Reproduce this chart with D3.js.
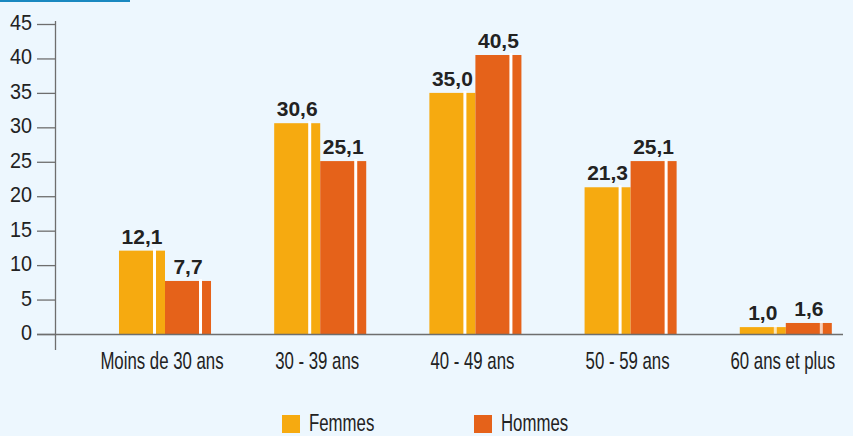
<!DOCTYPE html>
<html>
<head>
<meta charset="utf-8">
<script src="https://cdn.jsdelivr.net/npm/d3@7"></script>
<style>
  body { margin: 0; background: #edf7fe; }
  svg { display: block; }
  text { font-family: "Liberation Sans", Arial, sans-serif; }
</style>
</head>
<body>
<div class="chart"></div>
<script>
// data
var categories = ["Moins de 30 ans", "30 - 39 ans", "40 - 49 ans", "50 - 59 ans", "60 ans et plus"];
var series = ["Femmes", "Hommes"];
var femmes = [12.1, 30.6, 35.0, 21.3, 1.0];
var hommes = [7.7, 25.1, 40.5, 25.1, 1.6];
var yTicks = [0, 5, 10, 15, 20, 25, 30, 35, 40, 45];

var colors = {Femmes: "#f6aa10", Hommes: "#e5621a"};

var width = 853, height = 436;
// the original uses a condensed face, so squeeze the text horizontally
var narrow = 0.7, tickNarrow = 0.9;

var svg = d3.select(".chart").append("svg")
    .attr("width", width)
    .attr("height", height);

svg.append("rect")
    .attr("width", width).attr("height", height)
    .attr("fill", "#edf7fe");

// blue line at the top left
svg.append("rect")
    .attr("x", 0).attr("y", 0)
    .attr("width", 130).attr("height", 2)
    .attr("fill", "#1a88c0");

// scales
var y = d3.scaleLinear().domain([0, 45]).range([334, 24]);

var x0 = d3.scaleBand()
    .domain(categories)
    .range([87.4, 863.4])
    .paddingInner(0.407)
    .paddingOuter(0.2035);

var x1 = d3.scaleBand()
    .domain(series)
    .range([0, x0.bandwidth()]);

// y axis
var yAxis = svg.append("g")
    .attr("transform", "translate(55,0)")
    .call(d3.axisLeft(y).tickValues(yTicks).tickSize(18).tickPadding(5));
yAxis.select(".domain").remove();
yAxis.selectAll(".tick line").attr("stroke", "#6e6e6e").attr("stroke-width", 1.3);
yAxis.selectAll(".tick text")
    .attr("x", -23 / tickNarrow)
    .attr("dy", "0.25em")
    .attr("transform", "scale(" + tickNarrow + ",1)")
    .attr("font-size", 22)
    .attr("fill", "#222");

svg.append("line")
    .attr("x1", 55.5).attr("x2", 55.5)
    .attr("y1", 21).attr("y2", 350)
    .attr("stroke", "#6e6e6e").attr("stroke-width", 1.3);

// rows of data
var rows = categories.map(function (c, i) {
    return {cat: c, values: [
        {key: "Femmes", value: femmes[i]},
        {key: "Hommes", value: hommes[i]}
    ]};
});

var groups = svg.selectAll("g.group")
    .data(rows)
    .enter()
    .append("g")
    .attr("class", "group")
    .attr("transform", function (d) { return "translate(" + x0(d.cat) + ",0)"; });

groups.selectAll("rect.bar")
    .data(function (d) { return d.values; })
    .enter()
    .append("rect")
    .attr("class", "bar")
    .attr("x", function (d) { return x1(d.key); })
    .attr("width", x1.bandwidth())
    .attr("y", function (d) { return y(d.value); })
    .attr("height", function (d) { return y(0) - y(d.value); })
    .attr("fill", function (d) { return colors[d.key]; });

// white stripe near the right edge of each bar
groups.selectAll("rect.stripe")
    .data(function (d) { return d.values; })
    .enter()
    .append("rect")
    .attr("class", "stripe")
    .attr("x", function (d) { return x1(d.key) + x1.bandwidth() - 12; })
    .attr("width", 3)
    .attr("y", function (d) { return y(d.value) - 2; })
    .attr("height", function (d) { return y(0) - y(d.value) + 2; })
    .attr("fill", "#fff")
    .attr("opacity", function (d) { return d.value < 3 ? 0.7 : 1; });

// value labels
groups.selectAll("text.val")
    .data(function (d) { return d.values; })
    .enter()
    .append("text")
    .attr("class", "val")
    .attr("x", function (d) { return x1(d.key) + x1.bandwidth() / 2; })
    .attr("y", function (d) { return y(d.value) - 7; })
    .attr("text-anchor", "middle")
    .attr("font-weight", "bold")
    .attr("font-size", 21)
    .attr("fill", "#222")
    .text(function (d) { return d3.format(".1f")(d.value).replace(".", ","); });

// baseline
svg.append("line")
    .attr("x1", 37).attr("x2", 843)
    .attr("y1", y(0) + 0.5).attr("y2", y(0) + 0.5)
    .attr("stroke", "#6e6e6e").attr("stroke-width", 1.5);

// category labels
svg.selectAll("text.cat")
    .data(categories)
    .enter()
    .append("text")
    .attr("class", "cat")
    .attr("transform", "scale(" + narrow + ",1)")
    .attr("x", function (d) { return (x0(d) + x0.bandwidth() / 2 - 3) / narrow; })
    .attr("y", 369)
    .attr("text-anchor", "middle")
    .attr("font-size", 24)
    .attr("fill", "#222")
    .text(function (d) { return d; });

// legend
var legendX = [282, 474];
var legend = svg.selectAll("g.legend")
    .data(series)
    .enter()
    .append("g")
    .attr("class", "legend")
    .attr("transform", function (d, i) { return "translate(" + legendX[i] + ",415)"; });

legend.append("rect")
    .attr("width", 18).attr("height", 18)
    .attr("fill", function (d) { return colors[d]; });

legend.append("text")
    .attr("transform", "scale(" + narrow + ",1)")
    .attr("x", 27 / narrow)
    .attr("y", 16)
    .attr("font-size", 24)
    .attr("fill", "#222")
    .text(function (d) { return d; });
</script>
</body>
</html>
